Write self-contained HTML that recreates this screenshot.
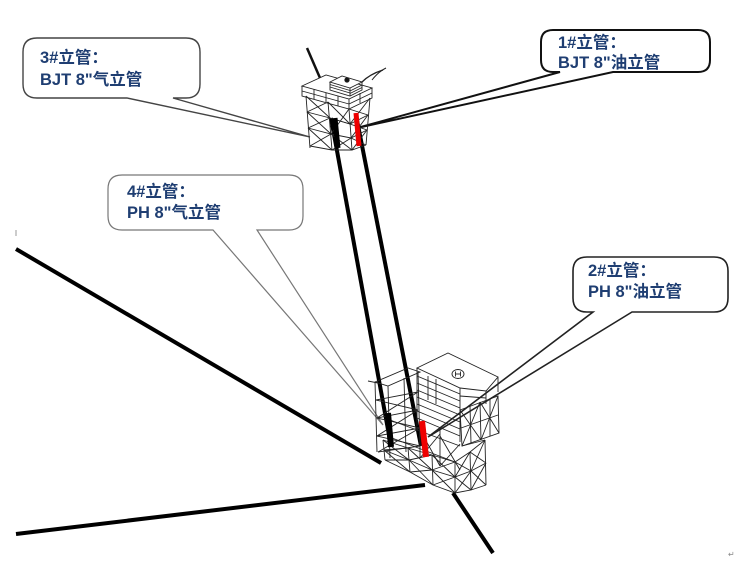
<!DOCTYPE html>
<html><head><meta charset="utf-8">
<style>
html,body{margin:0;padding:0;background:#fff;}
svg{display:block;}
.t{font-family:"Liberation Sans","Noto Sans CJK SC",sans-serif;font-weight:bold;fill:#1F3E72;font-size:16.5px;}
</style></head><body>
<svg width="737" height="573" viewBox="0 0 737 573" xmlns="http://www.w3.org/2000/svg">
<rect width="737" height="573" fill="#fff"/>

<!-- callouts -->
<path d="M37,38 H186 Q200,38 200,52 V84 Q200,98 186,98 H173 L310,137 L127,98 H37 Q23,98 23,84 V52 Q23,38 37,38 Z" fill="#fff" stroke="#444" stroke-width="1.4"/>
<path d="M553,30 H698 Q710,30 710,42 V60 Q710,72 698,72 H613 L357,128 L560,72 H553 Q541,72 541,60 V42 Q541,30 553,30 Z" fill="#fff" stroke="#111" stroke-width="2"/>
<path d="M122,175 H289 Q303,175 303,189 V216 Q303,230 289,230 H257 L383,425 L213,230 H122 Q108,230 108,216 V189 Q108,175 122,175 Z" fill="#fff" stroke="#777" stroke-width="1.2"/>
<path d="M587,257 H714 Q728,257 728,271 V298 Q728,312 714,312 H632 L428,437 L593,312 H587 Q573,312 573,298 V271 Q573,257 587,257 Z" fill="#fff" stroke="#222" stroke-width="1.6"/>

<text class="t" x="40" y="63">3#立管：</text>
<text class="t" x="40" y="85">BJT 8"气立管</text>
<text class="t" x="558" y="48">1#立管：</text>
<text class="t" x="558" y="68">BJT 8"油立管</text>
<text class="t" x="127" y="197">4#立管：</text>
<text class="t" x="127" y="218">PH 8"气立管</text>
<text class="t" x="588" y="276">2#立管：</text>
<text class="t" x="588" y="297">PH 8"油立管</text>

<!-- long lines -->
<g stroke="#000" stroke-width="4" stroke-linecap="butt">
<line x1="16" y1="249" x2="381" y2="463"/>
<line x1="16" y1="534" x2="425" y2="485"/>
<line x1="453" y1="493" x2="493" y2="553"/>
<line x1="331" y1="118" x2="391" y2="446"/>
<line x1="357" y1="120" x2="421" y2="446"/>
</g>
<line x1="16" y1="230" x2="16" y2="236" stroke="#999" stroke-width="1"/>

<!-- top platform -->
<g stroke="#222" stroke-width="0.9" fill="none">
<line x1="307" y1="48" x2="320" y2="78" stroke-width="2.5" stroke="#111"/>
<path d="M362,82 Q370,74 383,70" stroke-width="1.4"/>
<path d="M372,80 Q378,72 386,68" stroke-width="1"/>
<polygon points="302,86 326,75 372,88 349,99" fill="#fff"/>
<polyline points="302,86 302,96 349,109 372,98 372,88"/>
<line x1="349" y1="99" x2="349" y2="109"/>
<line x1="302" y1="91" x2="349" y2="104"/>
<line x1="349" y1="104" x2="372" y2="93"/>
<line x1="314" y1="89" x2="314" y2="99"/><line x1="326" y1="93" x2="326" y2="102"/><line x1="338" y1="96" x2="338" y2="106"/>
<line x1="360" y1="93" x2="360" y2="103"/>
<polygon points="330,82 342,76 362,82 350,88" fill="#fff"/>
<polyline points="330,82 330,90 350,96 362,90 362,82"/>
<line x1="350" y1="88" x2="350" y2="96"/>
<line x1="330" y1="84.5" x2="350" y2="90.5"/><line x1="330" y1="87" x2="350" y2="93"/>
<line x1="350" y1="91" x2="362" y2="85"/><line x1="350" y1="93.5" x2="362" y2="87.5"/>
<circle cx="347" cy="80" r="2.2" fill="#111"/>
<!-- jacket -->
<line x1="306" y1="96" x2="310" y2="148"/>
<line x1="328" y1="102" x2="332" y2="150"/>
<line x1="349" y1="109" x2="352" y2="150"/>
<line x1="370" y1="98" x2="366" y2="145"/>
<polyline points="307,112 330,118 350,124 368,115"/>
<polyline points="308,128 331,134 351,138 367,130"/>
<polyline points="310,146 332,150 352,150 366,145"/>
<line x1="306" y1="96" x2="330" y2="118"/><line x1="328" y1="102" x2="307" y2="112"/>
<line x1="307" y1="112" x2="331" y2="134"/><line x1="330" y1="118" x2="308" y2="128"/>
<line x1="308" y1="128" x2="332" y2="150"/><line x1="331" y1="134" x2="310" y2="146"/>
<line x1="349" y1="109" x2="368" y2="115"/><line x1="370" y1="98" x2="350" y2="124"/>
<line x1="350" y1="124" x2="367" y2="130"/><line x1="368" y1="115" x2="351" y2="138"/>
<line x1="351" y1="138" x2="366" y2="145"/><line x1="367" y1="130" x2="352" y2="150"/>
<line x1="330" y1="118" x2="350" y2="124"/><line x1="328" y1="102" x2="350" y2="124"/><line x1="349" y1="109" x2="331" y2="134"/>
<line x1="331" y1="134" x2="352" y2="150"/><line x1="351" y1="138" x2="332" y2="150"/>
</g>
<line x1="335" y1="118" x2="338" y2="148" stroke="#000" stroke-width="5"/>
<line x1="356" y1="113" x2="359" y2="146" stroke="#e00" stroke-width="5"/>

<!-- bottom platform -->
<g stroke="#222" stroke-width="0.9" fill="none">
<!-- left module -->
<polygon points="375,382 408,368 420,372 388,386"/>
<line x1="375" y1="382" x2="377" y2="452"/>
<line x1="388" y1="386" x2="390" y2="458"/>
<line x1="404" y1="378" x2="406" y2="452"/>
<line x1="418" y1="372" x2="420" y2="450"/>
<line x1="376" y1="400" x2="418" y2="392"/>
<line x1="377" y1="418" x2="418" y2="410"/>
<line x1="377" y1="436" x2="420" y2="428"/>
<line x1="378" y1="452" x2="420" y2="446"/>
<line x1="376" y1="400" x2="418" y2="410"/><line x1="377" y1="418" x2="418" y2="392"/>
<line x1="377" y1="418" x2="420" y2="428"/><line x1="377" y1="436" x2="418" y2="410"/>
<line x1="377" y1="436" x2="420" y2="446"/><line x1="378" y1="452" x2="420" y2="428"/>
<line x1="368" y1="381" x2="378" y2="383"/>
<!-- accommodation -->
<polygon points="417,368 448,353 498,377 486,391 460,388" fill="#fff"/>
<line x1="417" y1="368" x2="417" y2="426"/>
<line x1="460" y1="388" x2="460" y2="442"/>
<line x1="486" y1="391" x2="486" y2="404"/>
<line x1="498" y1="377" x2="498" y2="392"/>
<line x1="417" y1="376" x2="460" y2="394"/>
<line x1="417" y1="383" x2="460" y2="401"/>
<line x1="417" y1="390" x2="460" y2="408"/>
<line x1="417" y1="397" x2="460" y2="415"/>
<line x1="417" y1="404" x2="460" y2="422"/>
<line x1="417" y1="411" x2="460" y2="429"/>
<line x1="417" y1="418" x2="460" y2="436"/>
<line x1="428" y1="376" x2="428" y2="400"/><line x1="436" y1="379" x2="436" y2="404"/>
<line x1="460" y1="396" x2="486" y2="398"/>
<ellipse cx="458" cy="374" rx="6" ry="4.5"/>
<line x1="455.5" y1="371.5" x2="455.5" y2="376.5"/><line x1="460.5" y1="371.5" x2="460.5" y2="376.5"/><line x1="455.5" y1="374" x2="460.5" y2="374"/>
<!-- right module -->
<polygon points="460,410 498,396 499,433 462,446"/>
<line x1="470" y1="406" x2="471" y2="443"/>
<line x1="480" y1="402" x2="481" y2="440"/>
<line x1="490" y1="399" x2="490" y2="436"/>
<line x1="461" y1="428" x2="498" y2="415"/>
<line x1="460" y1="410" x2="481" y2="440"/><line x1="480" y1="402" x2="462" y2="446"/>
<line x1="480" y1="402" x2="499" y2="433"/><line x1="498" y1="396" x2="481" y2="440"/>
<!-- inner lattice -->
<line x1="390" y1="420" x2="460" y2="446"/>
<line x1="392" y1="438" x2="455" y2="462"/>
<line x1="420" y1="426" x2="420" y2="458"/>
<line x1="440" y1="430" x2="440" y2="466"/>
<line x1="420" y1="430" x2="440" y2="466"/><line x1="440" y1="434" x2="420" y2="458"/>
<line x1="440" y1="436" x2="460" y2="470"/><line x1="460" y1="444" x2="440" y2="466"/>
<!-- jacket -->
<line x1="383" y1="440" x2="385" y2="460"/>
<line x1="408" y1="448" x2="410" y2="472"/>
<line x1="432" y1="455" x2="433" y2="485"/>
<line x1="455" y1="462" x2="455" y2="493"/>
<line x1="470" y1="452" x2="471" y2="490"/>
<line x1="485" y1="440" x2="486" y2="485"/>
<polyline points="385,460 410,472 433,485 455,493 471,490 486,485"/>
<polyline points="383,440 408,448 432,455 455,462 470,452 485,440"/>
<polyline points="384,450 409,460 432,470 455,477 471,471 486,463"/>
<line x1="383" y1="440" x2="409" y2="460"/><line x1="408" y1="448" x2="384" y2="450"/>
<line x1="384" y1="450" x2="410" y2="472"/><line x1="409" y1="460" x2="385" y2="460"/>
<line x1="408" y1="448" x2="432" y2="470"/><line x1="432" y1="455" x2="409" y2="460"/>
<line x1="409" y1="460" x2="433" y2="485"/><line x1="432" y1="470" x2="410" y2="472"/>
<line x1="432" y1="455" x2="455" y2="477"/><line x1="455" y1="462" x2="432" y2="470"/>
<line x1="432" y1="470" x2="455" y2="493"/><line x1="455" y1="477" x2="433" y2="485"/>
<line x1="455" y1="462" x2="471" y2="471"/><line x1="470" y1="452" x2="455" y2="477"/>
<line x1="455" y1="477" x2="471" y2="490"/><line x1="471" y1="471" x2="455" y2="493"/>
<line x1="470" y1="452" x2="486" y2="463"/><line x1="485" y1="440" x2="471" y2="471"/>
<line x1="471" y1="471" x2="486" y2="485"/><line x1="486" y1="463" x2="471" y2="490"/>
<line x1="462" y1="446" x2="485" y2="440"/>
</g>
<line x1="388" y1="413" x2="391" y2="447" stroke="#000" stroke-width="6"/>
<line x1="422" y1="421" x2="426" y2="457" stroke="#e00" stroke-width="6"/>

<text x="728" y="557" font-family="DejaVu Sans, sans-serif" font-size="8" fill="#888">↵</text>
</svg></body></html>
